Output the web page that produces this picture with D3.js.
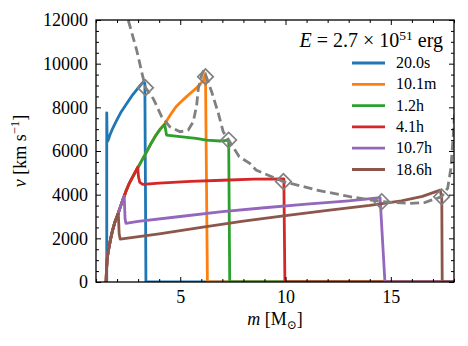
<!DOCTYPE html>
<html>
<head>
<meta charset="utf-8">
<script src="https://cdn.jsdelivr.net/npm/d3@7"></script>
<style>
  body { margin: 0; background: #fff; }
  svg text { font-family: "Liberation Serif", "DejaVu Serif", serif !important; fill: #000; }
</style>
</head>
<body>
<div id="chart"></div>
<script>
// values: [mass (Msun), velocity (km/s)]
const envelope = [
  [1.48, 0], [1.5, 600], [1.53, 1050], [1.58, 1400], [1.63, 1650], [1.7, 2000],
  [1.79, 2380], [1.9, 2750], [2.03, 3080], [2.15, 3420], [2.27, 3760], [2.42, 4150],
  [2.58, 4520], [2.78, 4880], [2.98, 5220], [3.17, 5560], [3.37, 5900], [3.6, 6320],
  [3.85, 6730], [4.05, 7000], [4.26, 7240], [4.55, 7680], [4.8, 8030], [5.05, 8270],
  [5.3, 8490], [5.55, 8700], [5.75, 8870], [5.95, 9060], [6.1, 9250], [6.2, 9550],
  [6.26, 10050],
];
const blue20s = [
  [1.51, 0], [1.51, 7750], [1.53, 6430], [1.58, 6500], [1.66, 6730], [1.8, 7050],
  [1.98, 7400], [2.2, 7800], [2.46, 8180], [2.7, 8520], [2.93, 8800], [3.1, 9000],
  [3.25, 9170], [3.32, 9100], [3.35, 4000], [3.37, 0], [18, 0],
];
const tail10m = [[6.29, 0], [18, 0]];
const tail1h = [
  [4.26, 7220], [4.35, 6730], [4.99, 6655], [5.75, 6580], [6.25, 6500], [6.89, 6458],
  [7.1, 6480], [7.3, 6500], [7.35, 0], [18, 0],
];
const tail4h = [
  [2.98, 5260], [3.02, 4800], [3.08, 4560], [3.22, 4470], [4, 4530], [5.5, 4610],
  [7, 4660], [8.5, 4710], [9.92, 4720], [9.97, 0], [18, 0],
];
const tail10h = [
  [2.34, 3930], [2.38, 2900], [2.42, 2690], [3, 2780], [5, 3000], [7, 3220],
  [9, 3400], [11, 3570], [13, 3720], [14.49, 3860], [14.72, 0], [18, 0],
];
const tail18h = [
  [2.06, 3120], [2.1, 2200], [2.15, 1960], [4, 2200], [6, 2500], [8, 2790],
  [10, 3040], [12, 3280], [14, 3510], [15.5, 3720], [16.5, 3920], [17.35, 4210],
  [17.42, 3800], [17.44, 0], [18, 0],
];
const shockCurve = [
  [2.45, 12600], [2.53, 12000], [2.93, 10625], [3.2, 9500], [3.35, 8900], [3.72, 8400],
  [4.12, 7570], [4.51, 7110], [4.99, 6885], [5.38, 6960], [5.62, 7340], [5.78, 8100],
  [5.86, 8870], [6.02, 9480], [6.12, 9700], [6.22, 9450], [6.49, 8716], [6.81, 7725],
  [7.04, 6885], [7.3, 6500], [7.8, 5740], [8.3, 5435], [8.6, 5130], [9.9, 4595],
  [11.48, 4214], [13.06, 3907], [14.57, 3680], [15.9, 3603], [16.6, 3640], [17.41, 3907],
  [17.7, 4300], [17.85, 5200], [17.95, 6500], [18.05, 8000],
];
const shockFronts = [
  [3.35, 8900], [6.2, 9400], [7.3, 6500], [9.9, 4600], [14.57, 3680], [17.41, 3900],
];
const labels = ['20.0s', '10.1m', '1.2h', '4.1h', '10.7h', '18.6h'];
const peakCut = [null, 6.26, 4.26, 2.98, 2.34, 2.06];
const tails = [blue20s, tail10m, tail1h, tail4h, tail10h, tail18h];
const xMajor = [5, 10, 15];
const yMajor = [0, 2000, 4000, 6000, 8000, 10000, 12000];

const colors = ['#1f77b4', '#ff7f0e', '#2ca02c', '#d62728', '#9467bd', '#8c564b'];
const serif = '"Liberation Serif", "DejaVu Serif", serif';

const W = 468;
const H = 346;
const plot = { l: 96, r: 454, t: 20, b: 282 };

const svg = d3.select('#chart').append('svg')
  .attr('width', W).attr('height', H)
  .attr('font-family', serif);

const x = d3.scaleLinear().domain([1, 18]).range([plot.l, plot.r]);
const y = d3.scaleLinear().domain([0, 12000]).range([plot.b, plot.t]);

svg.append('clipPath').attr('id', 'clip')
  .append('rect')
  .attr('x', plot.l).attr('y', plot.t)
  .attr('width', plot.r - plot.l).attr('height', plot.b - plot.t);

// series: shared rising part up to each peak, then own points
const series = tails.map((tail, i) => {
  if (peakCut[i] === null) return tail;
  return envelope.filter((d) => d[0] < peakCut[i]).concat(tail);
});

const line = d3.line().x((d) => x(d[0])).y((d) => y(d[1]));

const g = svg.append('g').attr('clip-path', 'url(#clip)');
series.forEach((s, i) => {
  g.append('path')
    .attr('d', line(s))
    .attr('fill', 'none')
    .attr('stroke', colors[i])
    .attr('stroke-width', 2.8)
    .attr('stroke-linejoin', 'round');
});

g.append('path')
  .attr('d', line(shockCurve))
  .attr('fill', 'none')
  .attr('stroke', '#808080')
  .attr('stroke-width', 2.8)
  .attr('stroke-dasharray', '9,4.5');

const diamond = d3.symbol().type(d3.symbolSquare).size(120);
svg.selectAll('.front').data(shockFronts).join('path')
  .attr('class', 'front')
  .attr('d', diamond)
  .attr('transform', (d) => `translate(${x(d[0])},${y(d[1])}) rotate(45)`)
  .attr('fill', 'none')
  .attr('stroke', '#808080')
  .attr('stroke-width', 1.7);

// axes with inward ticks on all sides
const xMinor = d3.range(1, 19).filter((v) => !xMajor.includes(v));
const yMinor = d3.range(0, 12001, 500).filter((v) => !yMajor.includes(v));

function addAxis(axisFn, scale, ticks, size, transform, labelled) {
  const a = axisFn(scale).tickValues(ticks).tickSizeInner(-size).tickSizeOuter(0)
    .tickPadding(labelled ? 8 : 0);
  if (!labelled) a.tickFormat('');
  else a.tickFormat(d3.format('d'));
  const ax = svg.append('g').attr('transform', transform).call(a)
    .attr('font-family', serif).attr('font-size', 18);
  ax.select('.domain').remove();
  ax.selectAll('line').attr('stroke', '#000').attr('stroke-width', 1);
  return ax;
}

addAxis(d3.axisBottom, x, xMajor, 5, `translate(0,${plot.b})`, true);
addAxis(d3.axisBottom, x, xMinor, 3, `translate(0,${plot.b})`, false);
addAxis(d3.axisTop, x, xMajor, 5, `translate(0,${plot.t})`, false);
addAxis(d3.axisTop, x, xMinor, 3, `translate(0,${plot.t})`, false);
addAxis(d3.axisLeft, y, yMajor, 5, `translate(${plot.l},0)`, true);
addAxis(d3.axisLeft, y, yMinor, 3, `translate(${plot.l},0)`, false);
addAxis(d3.axisRight, y, yMajor, 5, `translate(${plot.r},0)`, false);
addAxis(d3.axisRight, y, yMinor, 3, `translate(${plot.r},0)`, false);

svg.append('rect')
  .attr('x', plot.l).attr('y', plot.t)
  .attr('width', plot.r - plot.l).attr('height', plot.b - plot.t)
  .attr('fill', 'none').attr('stroke', '#000').attr('stroke-width', 1.3);

// axis names
const xName = svg.append('text')
  .attr('x', (plot.l + plot.r) / 2).attr('y', 325)
  .attr('text-anchor', 'middle').attr('font-size', 18);
xName.append('tspan').attr('font-style', 'italic').text('m');
xName.append('tspan').text(' [M');
xName.append('tspan').attr('dy', 4).attr('font-size', 12).text('⊙');
xName.append('tspan').attr('dy', -4).text(']');

const yName = svg.append('text')
  .attr('transform', `translate(26, ${(plot.t + plot.b) / 2}) rotate(-90)`)
  .attr('text-anchor', 'middle').attr('font-size', 18);
yName.append('tspan').attr('font-style', 'italic').text('v');
yName.append('tspan').text(' [km s');
yName.append('tspan').attr('dy', -7).attr('font-size', 12.5).text('−1');
yName.append('tspan').attr('dy', 7).text(']');

// legend
const title = svg.append('text')
  .attr('x', 443).attr('y', 47)
  .attr('text-anchor', 'end').attr('font-size', 20);
title.append('tspan').attr('font-style', 'italic').text('E');
title.append('tspan').text(' = 2.7 × 10');
title.append('tspan').attr('dy', -7).attr('font-size', 13.5).text('51');
title.append('tspan').attr('dy', 7).text(' erg');

const legend = svg.append('g');
labels.forEach((lab, i) => {
  const ly = 63 + i * 21.3;
  legend.append('line')
    .attr('x1', 352).attr('x2', 385).attr('y1', ly).attr('y2', ly)
    .attr('stroke', colors[i]).attr('stroke-width', 2.8);
  legend.append('text')
    .attr('x', 396).attr('y', ly + 5)
    .attr('font-size', 16)
    .text(lab);
});
</script>
</body>
</html>
